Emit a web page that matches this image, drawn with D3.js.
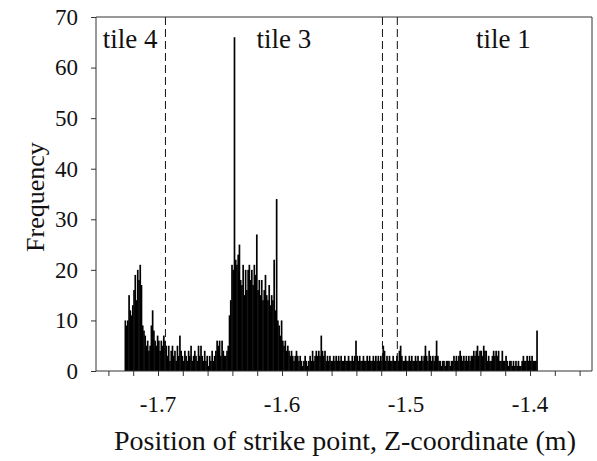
<!DOCTYPE html>
<html>
<head>
<meta charset="utf-8">
<script src="https://cdn.jsdelivr.net/npm/d3@7/dist/d3.min.js"></script>
<style>
  html, body { margin: 0; padding: 0; background: #fff; }
  svg { display: block; }
  text { font-family: "Liberation Serif", "Times New Roman", serif; fill: #111; }
</style>
</head>
<body>
<svg id="chart" width="597" height="461"></svg>
<script>
// ---- data ----
const binStart = -1.727;       // left edge of first bin (m)
const binWidth = 0.001;        // bin width (m)
const frequencies = [
  10, 9, 10,
  15, 12, 11, 13,
  16, 19, 14,
  20, 18, 21, 17,
  9, 8, 7,
  5, 6, 4, 5,
  9, 12, 8,
  6, 5, 7, 6, 4, 6, 5, 7, 6, 5,
  3, 5, 2, 4, 5, 3, 4, 2, 5, 3, 7, 4,
  3, 2, 4, 3, 2, 4, 3, 5, 2, 3, 4, 3, 2, 5, 3,
  5, 3, 2, 4, 2, 3, 1, 3, 2, 4, 2, 3,
  4, 6, 5, 6, 3, 6, 4, 3,
  3, 4, 5, 11,
  14, 21, 20, 66,
  22, 21, 23, 25, 18,
  17, 21, 15, 20, 16, 20,
  21, 18, 20, 17, 21,
  19, 27, 16, 18,
  15, 18, 14, 16, 19,
  15, 14, 17, 13, 15, 14,
  22, 12,
  34,
  10, 9, 7, 10, 6,
  5, 6, 4, 5, 4, 3,
  4, 3, 2, 3, 4, 3, 2, 3, 2, 1, 2, 3,
  2, 1, 2, 3, 2, 4, 2, 3, 4, 3,
  4, 3, 7, 4, 3,
  4, 2, 3, 2, 3, 2, 2, 3, 2, 3, 2, 3,
  2, 3, 2, 2, 3, 2,
  2, 3, 2, 2, 3, 2,
  3, 6, 3,
  2, 3, 2, 2, 3, 2, 2, 3, 2, 3, 2, 2, 3, 2,
  3, 2, 3, 2, 3, 2, 5, 4, 2,
  3, 2, 3, 2, 2, 3, 2, 2, 3, 2, 4, 5, 3, 2,
  2, 3, 2, 2, 3, 2, 3, 2, 2, 3, 2, 3, 2, 2, 3, 2,
  3, 5, 3, 2, 4, 3, 2, 3,
  2, 3, 6, 3, 2,
  2, 1, 2, 2, 1, 2, 2, 2, 1, 2, 2, 3, 2,
  3, 2, 3, 4, 3, 2,
  3, 2, 3, 2, 3, 2, 3, 3,
  4, 3, 4, 5, 3, 4, 4, 3, 5, 4, 4,
  2, 3, 2, 2, 3,
  4, 3, 4, 3, 4, 2,
  2, 4, 2,
  2, 3, 2, 1, 2, 2, 1, 2, 1, 2,
  1, 2, 1, 1, 2, 3, 2,
  2, 3, 2, 3, 2, 3, 2, 2,
  2, 8
];
const tileBoundaries = [-1.694, -1.519, -1.507];
const tileLabels = ["tile 4", "tile 3", "tile 1"];
const tileLabelPos = [-1.7225, -1.5985, -1.4215];
const xDomain = [-1.75, -1.35];
const yDomain = [0, 70];
const xMinorTicks = d3.range(-1.74, -1.35, 0.02);
const xLabelTicks = [-1.7, -1.6, -1.5, -1.4];
const yTicks = [0, 10, 20, 30, 40, 50, 60, 70];
const xTitle = "Position of strike point, Z-coordinate (m)";
const yTitle = "Frequency";

// ---- layout ----
const svg = d3.select("#chart");
const mLeft = 96, mRight = 592, mTop = 17, mBottom = 371;
const x = d3.scaleLinear().domain(xDomain).range([mLeft, mRight]);
const y = d3.scaleLinear().domain(yDomain).range([mBottom, mTop]);
const axisColor = "#333";

const bins = frequencies.map((f, i) => ({ x0: binStart + i * binWidth, x1: binStart + (i + 1) * binWidth, f }));

// bars
svg.append("g").selectAll("rect").data(bins).join("rect")
  .attr("x", d => x(d.x0))
  .attr("width", d => x(d.x1) - x(d.x0) + 0.45)
  .attr("y", d => y(d.f))
  .attr("height", d => y(0) - y(d.f))
  .attr("fill", "#000");

// dashed tile boundaries
svg.append("g").selectAll("line").data(tileBoundaries).join("line")
  .attr("x1", d => x(d)).attr("x2", d => x(d))
  .attr("y1", mTop).attr("y2", mBottom)
  .attr("stroke", "#111").attr("stroke-width", 1)
  .attr("stroke-dasharray", "8,4");

// frame (top and right)
svg.append("path")
  .attr("d", `M${mLeft},${mTop}H${mRight}V${mBottom}`)
  .attr("fill", "none").attr("stroke", axisColor).attr("stroke-width", 1);

// x axis
const xAxisMinor = d3.axisBottom(x).tickValues(xMinorTicks).tickSize(5).tickFormat("");
const gx = svg.append("g").attr("transform", `translate(0,${mBottom})`).call(xAxisMinor);
gx.select(".domain").attr("d", `M${mLeft},0H${mRight}`).attr("stroke", axisColor);
gx.selectAll(".tick line").attr("stroke", axisColor);

svg.append("g").selectAll("text").data(xLabelTicks).join("text")
  .attr("x", d => x(d)).attr("y", 412)
  .attr("text-anchor", "middle")
  .attr("font-size", 23)
  .text(d => d.toFixed(1));

// y axis
const yAxis = d3.axisLeft(y).tickValues(yTicks).tickSize(5).tickPadding(13).tickFormat(d3.format("d"));
const gy = svg.append("g").attr("transform", `translate(${mLeft},0)`).call(yAxis);
gy.select(".domain").attr("d", `M0,${mTop}V${mBottom}`).attr("stroke", axisColor);
gy.selectAll(".tick line").attr("stroke", axisColor);
gy.selectAll(".tick text").attr("font-size", 23).attr("fill", "#111");

// axis titles
svg.append("text").attr("x", 345).attr("y", 450).attr("text-anchor", "middle")
  .attr("font-size", 28).text(xTitle);
svg.append("text").attr("transform", `translate(44,197) rotate(-90)`)
  .attr("text-anchor", "middle").attr("font-size", 26).text(yTitle);

// tile labels
svg.append("g").selectAll("text").data(tileLabels).join("text")
  .attr("x", (d, i) => x(tileLabelPos[i])).attr("y", 48)
  .attr("text-anchor", "middle").attr("font-size", 27)
  .text(d => d);
</script>
</body>
</html>
